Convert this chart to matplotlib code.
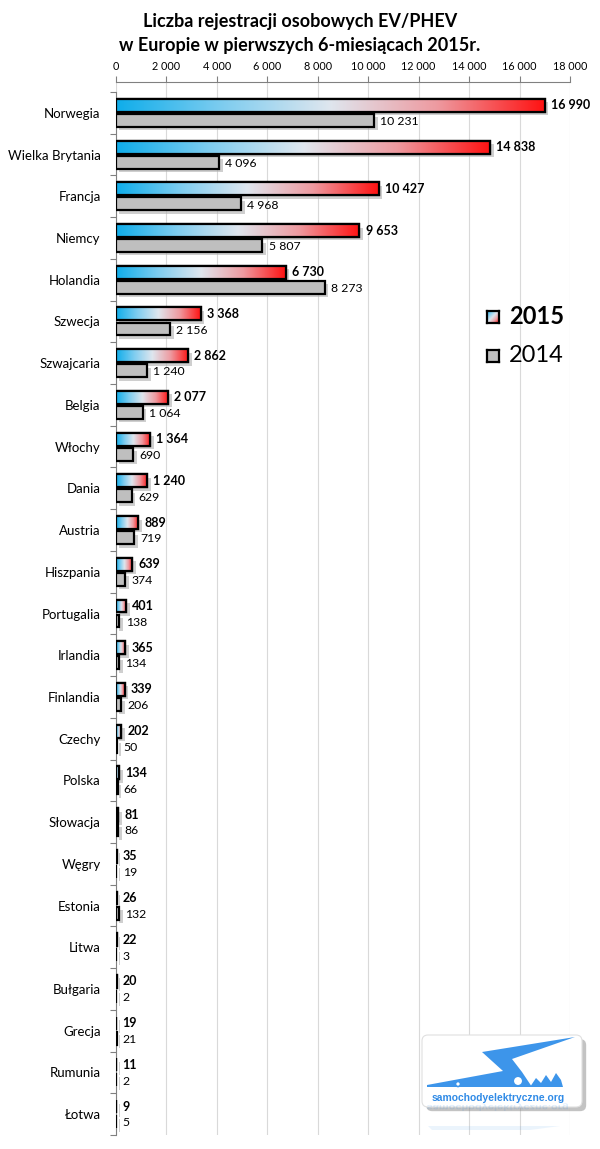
import numpy as np
import matplotlib
matplotlib.use("Agg")
import matplotlib.pyplot as plt
import matplotlib.patheffects as pe
from matplotlib.colors import LinearSegmentedColormap
from matplotlib.patches import FancyBboxPatch, Polygon, Circle, PathPatch
from matplotlib.textpath import TextPath
from matplotlib.font_manager import FontProperties
from matplotlib.transforms import Affine2D

plt.rcParams['font.family'] = ['Lato', 'DejaVu Sans']

countries = ['Norwegia', 'Wielka Brytania', 'Francja', 'Niemcy', 'Holandia', 'Szwecja',
             'Szwajcaria', 'Belgia', 'Włochy', 'Dania', 'Austria', 'Hiszpania', 'Portugalia',
             'Irlandia', 'Finlandia', 'Czechy', 'Polska', 'Słowacja', 'Węgry', 'Estonia',
             'Litwa', 'Bułgaria', 'Grecja', 'Rumunia', 'Łotwa']
values_2015 = [16990, 14838, 10427, 9653, 6730, 3368, 2862, 2077, 1364, 1240, 889, 639, 401,
               365, 339, 202, 134, 81, 35, 26, 22, 20, 19, 11, 9]
values_2014 = [10231, 4096, 4968, 5807, 8273, 2156, 1240, 1064, 690, 629, 719, 374, 138,
               134, 206, 50, 66, 86, 19, 132, 3, 2, 21, 2, 5]
x_ticks = [0, 2000, 4000, 6000, 8000, 10000, 12000, 14000, 16000, 18000]


def fmt(v):
    return f"{v:,}".replace(",", " ")


W, H = 600, 1149
fig = plt.figure(figsize=(6, 11.49), dpi=100)
ax = fig.add_axes([116 / W, 1 - 1135 / H, (570 - 116) / W, (1135 - 82) / H])

cmap = LinearSegmentedColormap.from_list(
    "ev", ['#0fadea', '#7fcdf0', '#dfe6ee', '#ee9aa0', '#ff1212'])
grad = np.linspace(0, 1, 256).reshape(1, -1)

y = np.arange(len(countries))
off, h = 0.18, 0.31
shadow = [pe.SimplePatchShadow(offset=(2.5, -2.5), shadow_rgbFace='#b0b0b0', alpha=0.6),
          pe.Normal()]

bars15 = ax.barh(y - off, values_2015, height=h, color='white', edgecolor='black',
                 linewidth=1.6, zorder=2, path_effects=shadow)
for b in bars15:
    x0, y0, w, hh = b.get_x(), b.get_y(), b.get_width(), b.get_height()
    im = ax.imshow(grad, extent=(x0, x0 + w, y0 + hh, y0), aspect='auto', cmap=cmap,
                   zorder=2.5, interpolation='bilinear')
    im.set_clip_path(b)
ax.barh(y - off, values_2015, height=h, color='none', edgecolor='black', linewidth=1.6,
        zorder=3)
ax.barh(y + off, values_2014, height=h, color='#bfbfbf', edgecolor='black', linewidth=1.6,
        zorder=3, path_effects=shadow)

for i in range(len(countries)):
    ax.text(values_2015[i] + 240, y[i] - off, fmt(values_2015[i]), va='center', ha='left',
            fontsize=9, fontweight='bold', zorder=4)
    ax.text(values_2014[i] + 240, y[i] + off + 0.03, fmt(values_2014[i]), va='center',
            ha='left', fontsize=8.8, zorder=4)

ax.set_xlim(0, 18000)
ax.set_ylim(24.5, -0.74)
ax.xaxis.tick_top()
ax.set_xticks(x_ticks)
ax.set_xticklabels([fmt(t) for t in x_ticks], fontsize=7.8)
ax.tick_params(axis='x', direction='out', length=4, width=0.8, color='#808080', pad=3)
ax.grid(axis='x', color='#d9d9d9', linewidth=0.8, zorder=0)
ax.set_axisbelow(True)

ax.set_yticks(y)
ax.set_yticklabels(countries, fontsize=9.5)
ax.tick_params(axis='y', length=0, pad=11)
ax.set_yticks(np.arange(-0.5, len(countries), 1), minor=True)
ax.tick_params(axis='y', which='minor', length=4, width=0.8, color='#808080')

for s in ['right', 'bottom']:
    ax.spines[s].set_visible(False)
ax.spines['top'].set_color('#808080')
ax.spines['left'].set_color('#808080')
ax.spines['top'].set_bounds(0, 18000)
ax.spines['left'].set_bounds(24.5, -0.5)

fig.text(300 / W, 1 - 22 / H, "Liczba rejestracji osobowych EV/PHEV", ha='center', va='center',
         fontsize=13, fontweight='bold')
fig.text(300 / W, 1 - 46 / H, "w Europie w pierwszych 6-miesiącach 2015r.", ha='center',
         va='center', fontsize=13, fontweight='bold')

# legend
lg1 = fig.add_axes([487 / W, 1 - 323 / H, 12 / W, 12 / H])
lg1.imshow(np.linspace(0, 1, 64).reshape(1, -1) + np.linspace(0, 1, 64).reshape(-1, 1),
           cmap=cmap, aspect='auto', interpolation='bilinear')
lg1.set_xticks([]); lg1.set_yticks([])
for s in lg1.spines.values():
    s.set_linewidth(1.6)
lg2 = fig.add_axes([487 / W, 1 - 362 / H, 12 / W, 12 / H])
lg2.set_facecolor('#bfbfbf')
lg2.set_xticks([]); lg2.set_yticks([])
for s in lg2.spines.values():
    s.set_linewidth(1.6)
fig.text(509 / W, 1 - 316 / H, "2015", fontsize=17, fontweight='bold', va='center')
fig.text(509 / W, 1 - 355 / H, "2014", fontsize=17, va='center')

# logo (drawn in figure pixel coordinates)
lax = fig.add_axes([410 / W, 0, 190 / W, 119 / H])
lax.set_xlim(410, 600)
lax.set_ylim(1149, 1030)
lax.axis('off')
lax.add_patch(FancyBboxPatch((422, 1035), 160, 72, boxstyle="round,pad=0,rounding_size=6",
                             facecolor='white', edgecolor='#e0e0e0', linewidth=0.8,
                             path_effects=[pe.SimplePatchShadow(offset=(3, -3),
                                                                shadow_rgbFace='#888888',
                                                                alpha=0.5), pe.Normal()]))
blue = '#3d95ea'
lax.add_patch(Polygon([(575, 1037), (482, 1052), (503, 1071), (427, 1085), (427, 1087),
                       (532, 1087), (522, 1072), (512, 1059)],
                      closed=True, facecolor=blue, edgecolor='none'))
lax.add_patch(Circle((518, 1081), 5, facecolor='white', edgecolor=blue, linewidth=1.5))
lax.add_patch(Circle((458, 1084), 2.5, facecolor='white', edgecolor=blue, linewidth=1.2))
lax.add_patch(Polygon([(530, 1087), (536, 1078), (541, 1083), (546, 1075), (551, 1082),
                       (556, 1073), (561, 1080), (563, 1087)], facecolor=blue,
                      edgecolor='none'))
lax.text(498, 1098, "samochodyelektryczne.org", ha='center', va='center', fontsize=7.4,
         fontweight='bold', color='#2f8ae6', family=['Liberation Sans', 'DejaVu Sans'])
tp = TextPath((0, 0), "samochodyelektryczne.org", size=8,
              prop=FontProperties(family='Liberation Sans', weight='bold'))
bb = tp.get_extents()
tr = Affine2D().translate(-bb.x0, 0).scale(141 / bb.width, 1.0).translate(427, 1105)
lax.add_patch(PathPatch(tr.transform_path(tp), facecolor='#2f8ae6', edgecolor='none',
                        alpha=0.15))
lax.add_patch(Polygon([(428, 1126), (560, 1126), (530, 1130), (432, 1130)], facecolor=blue,
                      edgecolor='none', alpha=0.1))

fig.savefig("out.png", dpi=100, facecolor='white')
